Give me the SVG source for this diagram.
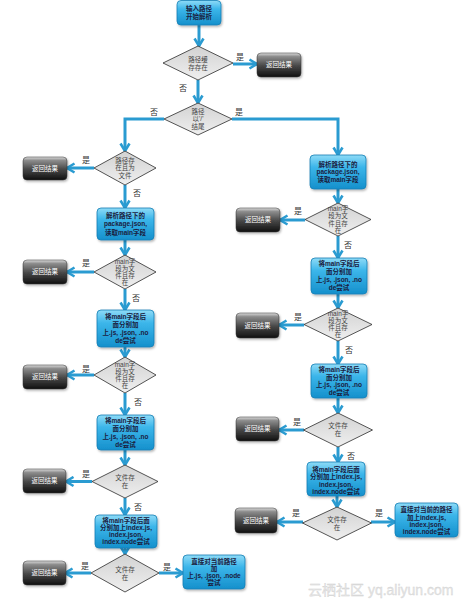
<svg xmlns="http://www.w3.org/2000/svg" width="475" height="608" viewBox="0 0 475 608">
<defs>
<linearGradient id="gBlue" x1="0" y1="0" x2="0" y2="1">
<stop offset="0" stop-color="#8fdbf7"/><stop offset="0.35" stop-color="#3cb6ea"/><stop offset="1" stop-color="#1590cc"/>
</linearGradient>
<linearGradient id="gDark" x1="0" y1="0" x2="0" y2="1">
<stop offset="0" stop-color="#dcdcdc"/><stop offset="0.15" stop-color="#8c8c8c"/><stop offset="0.55" stop-color="#454545"/><stop offset="1" stop-color="#111"/>
</linearGradient>
<linearGradient id="gDia" x1="0" y1="0" x2="0" y2="1">
<stop offset="0" stop-color="#d2d2d2"/><stop offset="1" stop-color="#efefef"/>
</linearGradient>
<filter id="sh" x="-20%" y="-20%" width="140%" height="150%">
<feDropShadow dx="1" dy="1.5" stdDeviation="1" flood-color="#000" flood-opacity="0.3"/>
</filter>
<marker id="arr" viewBox="0 0 12 12" refX="9.5" refY="6" markerWidth="12" markerHeight="12" markerUnits="userSpaceOnUse" orient="auto">
<path d="M2,1.5 L9.5,6 L2,10.5" fill="none" stroke="#2a9bd1" stroke-width="2.6"/>
</marker>
</defs>
<style>
.blue rect{fill:url(#gBlue);stroke:#137fb5;stroke-width:0.8;filter:url(#sh)}
.dark rect{fill:url(#gDark);stroke:#333;stroke-width:0.5;filter:url(#sh)}
.dia polygon{fill:url(#gDia);stroke:#2b2b2b;stroke-width:0.8}
text{text-anchor:middle;font-family:"Liberation Sans","Noto Sans CJK SC",sans-serif}
.blue text{font-size:6.5px;font-weight:bold;fill:#1a2040}
.dark text{font-size:6.5px;fill:#fff}
.dia text{font-size:6.5px;fill:#444}
.lbl{font-size:8px;fill:#333;font-family:"Noto Sans CJK SC",sans-serif}
.c{fill:none;stroke:#2a9bd1;stroke-width:3;marker-end:url(#arr)}
.wm{font-size:14px;fill:#e6e6e6;stroke:#d0d0d0;stroke-width:0.3;text-anchor:start}
</style>
<rect width="475" height="608" fill="#fff"/>

<g id="connectors">
<path class="c" d="M199,25 V46"/>
<path class="c" d="M233,64 H257"/>
<path class="c" d="M198,80 V103"/>
<path class="c" d="M164,119 H125 V151"/>
<path class="c" d="M232,119 H338 V155"/>
<path class="c" d="M94,168 H67"/>
<path class="c" d="M125,185 V208"/>
<path class="c" d="M125,240 V255"/>
<path class="c" d="M94,272 H67"/>
<path class="c" d="M125,289 V310"/>
<path class="c" d="M125,347 V357"/>
<path class="c" d="M94,375 H67"/>
<path class="c" d="M125,393 V415"/>
<path class="c" d="M125,450 V465"/>
<path class="c" d="M92,481.5 H66"/>
<path class="c" d="M125,498 V515"/>
<path class="c" d="M125,548 V554"/>
<path class="c" d="M91,573 H65"/>
<path class="c" d="M159,573 H183"/>
<path class="c" d="M338,189 V203"/>
<path class="c" d="M305,220 H280"/>
<path class="c" d="M338,236 V258"/>
<path class="c" d="M338,294 V308"/>
<path class="c" d="M304,325 H279"/>
<path class="c" d="M338,341 V364"/>
<path class="c" d="M338,398 V413"/>
<path class="c" d="M304,430 H279"/>
<path class="c" d="M338,447 V462"/>
<path class="c" d="M337,496 V507"/>
<path class="c" d="M303,522 H277"/>
<path class="c" d="M371,522 H395"/>
<text class="lbl" x="240" y="60">是</text>
<text class="lbl" x="183" y="91">否</text>
<text class="lbl" x="154" y="115">否</text>
<text class="lbl" x="239" y="115">是</text>
<text class="lbl" x="86" y="163">是</text>
<text class="lbl" x="137" y="196">否</text>
<text class="lbl" x="298" y="214">是</text>
<text class="lbl" x="348" y="248">否</text>
<text class="lbl" x="86" y="266">是</text>
<text class="lbl" x="136" y="301">否</text>
<text class="lbl" x="298" y="320">是</text>
<text class="lbl" x="349" y="353">否</text>
<text class="lbl" x="86" y="372">是</text>
<text class="lbl" x="138" y="405">否</text>
<text class="lbl" x="297" y="425">是</text>
<text class="lbl" x="351" y="459">否</text>
<text class="lbl" x="86" y="477">是</text>
<text class="lbl" x="138" y="510">否</text>
<text class="lbl" x="296" y="516">是</text>
<text class="lbl" x="379" y="516">是</text>
<text class="lbl" x="85" y="569">是</text>
<text class="lbl" x="167" y="570">是</text>
</g>

<g id="start" class="blue"><rect x="177" y="0.5" width="44" height="24.5" rx="4"/>
<text x="199" y="10.8">输入路径</text><text x="199" y="18.8">开始解析</text></g>

<g id="d1" class="dia"><polygon points="198,46 233,63 198,80 163,63"/>
<text x="198" y="61.8">路径缓</text><text x="198" y="69.6">存存在</text></g>
<g id="r0" class="dark"><rect x="257" y="53" width="44" height="24" rx="4"/><text x="279" y="67.3">返回结果</text></g>

<g id="d2" class="dia"><polygon points="198,103 232,119 198,135 164,119"/>
<text x="198" y="113.8">路径</text><text x="198" y="121.3">以'/'</text><text x="198" y="128.8">结尾</text></g>

<g id="dl1" class="dia"><polygon points="125,151 156,168 125,185 94,168"/>
<text x="125" y="162.8">路径存</text><text x="125" y="170.3">在且为</text><text x="125" y="177.8">文件</text></g>
<g id="rl1" class="dark"><rect x="23" y="157" width="44" height="23" rx="4"/><text x="45" y="170.8">返回结果</text></g>

<g id="bl1" class="blue"><rect x="97" y="208" width="57" height="32" rx="4"/>
<text x="125.5" y="217.8">解析路径下的</text><text x="125.5" y="226.3">package.json,</text><text x="125.5" y="234.8">读取main字段</text></g>

<g id="dl2" class="dia"><polygon points="125,255 156,272 125,289 94,272"/>
<text x="125" y="263.8">main字</text><text x="125" y="270.8">段为文</text><text x="125" y="277.8">件且存</text><text x="125" y="284.8">在</text></g>
<g id="rl2" class="dark"><rect x="23" y="260" width="44" height="24" rx="4"/><text x="45" y="274.3">返回结果</text></g>

<g id="bl2" class="blue"><rect x="97" y="310" width="57" height="37" rx="4"/>
<text x="125.5" y="318.8">将main字段后</text><text x="125.5" y="326.8">面分别加</text><text x="125.5" y="334.8">上.js, .json, .no</text><text x="125.5" y="342.8">de尝试</text></g>

<g id="dl3" class="dia"><polygon points="125,357 156,375 125,393 94,375"/>
<text x="125" y="366.8">main字</text><text x="125" y="373.8">段为文</text><text x="125" y="380.8">件且存</text><text x="125" y="387.8">在</text></g>
<g id="rl3" class="dark"><rect x="23" y="365" width="44" height="24" rx="4"/><text x="45" y="379.3">返回结果</text></g>

<g id="bl3" class="blue"><rect x="97" y="415" width="57" height="35" rx="4"/>
<text x="125.5" y="422.8">将main字段后</text><text x="125.5" y="430.8">面分别加</text><text x="125.5" y="438.8">上.js, .json, .no</text><text x="125.5" y="446.8">de尝试</text></g>

<g id="dl4" class="dia"><polygon points="125,465 158,481.5 125,498 92,481.5"/>
<text x="125" y="480.3">文件存</text><text x="125" y="488.3">在</text></g>
<g id="rl4" class="dark"><rect x="23" y="469" width="43" height="24" rx="4"/><text x="44.5" y="483.3">返回结果</text></g>

<g id="bl4" class="blue"><rect x="95" y="515" width="62" height="33" rx="4"/>
<text x="126" y="523.3">将main字段后面</text><text x="126" y="530.3">分别加上index.js,</text><text x="126" y="537.3">index.json,</text><text x="126" y="544.3">index.node尝试</text></g>

<g id="dl5" class="dia"><polygon points="125,554 159,573 125,592 91,573"/>
<text x="125" y="572.3">文件存</text><text x="125" y="580.3">在</text></g>
<g id="rl5" class="dark"><rect x="23" y="561" width="43" height="24" rx="4"/><text x="44.5" y="575.3">返回结果</text></g>

<g id="bl5" class="blue"><rect x="183" y="555" width="62" height="34" rx="4"/>
<text x="214" y="563.8">直接对当前路径</text><text x="214" y="570.8">加</text><text x="214" y="577.8">上.js, .json, .node</text><text x="214" y="584.8">尝试</text></g>

<g id="br1" class="blue"><rect x="310" y="155" width="56" height="34" rx="4"/>
<text x="338" y="166.8">解析路径下的</text><text x="338" y="174.3">package.json,</text><text x="338" y="181.8">读取main字段</text></g>

<g id="dr1" class="dia"><polygon points="338,203 371,219.5 338,236 305,219.5"/>
<text x="338" y="210.5">main字</text><text x="338" y="218">段为文</text><text x="338" y="225.5">件且存</text><text x="338" y="233">在</text></g>
<g id="rr1" class="dark"><rect x="236" y="208" width="44" height="24" rx="4"/><text x="258" y="222.3">返回结果</text></g>

<g id="br2" class="blue"><rect x="311" y="258" width="56" height="36" rx="4"/>
<text x="339" y="266.3">将main字段后</text><text x="339" y="274.3">面分别加</text><text x="339" y="282.3">上.js, .json, .no</text><text x="339" y="290.3">de尝试</text></g>

<g id="dr2" class="dia"><polygon points="338,308 372,324.5 338,341 304,324.5"/>
<text x="338" y="316.3">main字</text><text x="338" y="323.3">段为文</text><text x="338" y="330.3">件且存</text><text x="338" y="337.3">在</text></g>
<g id="rr2" class="dark"><rect x="236" y="313" width="43" height="25" rx="4"/><text x="257.5" y="327.8">返回结果</text></g>

<g id="br3" class="blue"><rect x="311" y="364" width="56" height="34" rx="4"/>
<text x="339" y="372.3">将main字段后</text><text x="339" y="379.8">面分别加</text><text x="339" y="387.3">上.js, .json, .no</text><text x="339" y="394.8">de尝试</text></g>

<g id="dr3" class="dia"><polygon points="338,413 372.5,430 338,447 303.5,430"/>
<text x="338" y="428.3">文件存</text><text x="338" y="436.3">在</text></g>
<g id="rr3" class="dark"><rect x="236" y="417" width="43" height="24" rx="4"/><text x="257.5" y="431.3">返回结果</text></g>

<g id="br4" class="blue"><rect x="307" y="462" width="58" height="34" rx="4"/>
<text x="336" y="471.8">将main字段后面</text><text x="336" y="479.3">分别加上index.js,</text><text x="336" y="486.8">index.json,</text><text x="336" y="494.3">index.node尝试</text></g>

<g id="dr4" class="dia"><polygon points="337,507 371.5,523 337,540 302.5,523"/>
<text x="337" y="521.8">文件存</text><text x="337" y="529.8">在</text></g>
<g id="rr4" class="dark"><rect x="235" y="508" width="42" height="25" rx="4"/><text x="256" y="522.8">返回结果</text></g>

<g id="br5" class="blue"><rect x="395" y="503" width="63" height="34" rx="4"/>
<text x="426.5" y="512.3">直接对当前的路径</text><text x="426.5" y="519.6">加上index.js,</text><text x="426.5" y="527">index.json,</text><text x="426.5" y="534.3">index.node尝试</text></g>

<text class="wm" x="308" y="595">云栖社区 yq.aliyun.com</text>
</svg>
